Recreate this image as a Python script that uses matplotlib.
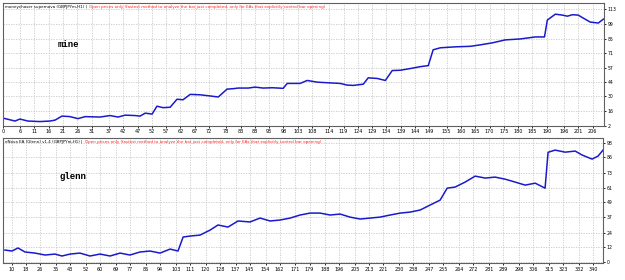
import matplotlib
matplotlib.use("Agg")
import matplotlib.pyplot as plt

# top panel: "mine"
mine_x = [0, 4.2, 5.9, 8.7, 12.9, 16.4, 18.2, 20.6, 23.4, 26.2, 28.7, 33.9, 37.4, 40.2,
          42.7, 46.2, 47.9, 49.7, 52.1, 53.8, 55.9, 58.4, 60.8, 62.9, 65.4, 68.9, 72.4,
          75.2, 78.3, 80.4, 82.2, 85.7, 88.1, 90.9, 94.1, 96.2, 97.9, 99.3, 103.8, 106.3,
          109.8, 113.6, 117.8, 120.3, 122.4, 125.9, 127.6, 130.8, 133.6, 136.0, 138.8,
          142.3, 145.8, 148.6, 150.3, 152.8, 158.0, 163.3, 166.8, 171.0, 175.5, 180.8,
          186.0, 189.2, 190.2, 193.0, 195.5, 197.2, 199.0, 201.0, 202.8, 205.2, 208.0, 209.8]
mine_y = [9.5, 6.7, 8.6, 6.7, 6.2, 6.7, 7.6, 11.4, 10.9, 9.0, 10.9, 10.5, 11.9, 10.5,
          12.3, 11.9, 11.4, 14.2, 13.3, 20.8, 19.4, 19.8, 27.4, 26.9, 32.0, 31.6, 30.5,
          29.5, 37.0, 37.4, 38.0, 38.0, 38.9, 38.0, 38.3, 38.0, 37.7, 42.4, 42.4, 45.2,
          43.6, 43.0, 42.4, 40.8, 40.5, 41.7, 47.7, 47.1, 45.2, 54.6, 54.9,
          56.5, 58.3, 59.3, 74.3, 76.2, 77.1, 77.6, 79.0, 80.9, 83.7, 84.6,
          86.5, 86.5, 102.5, 108.1, 107.2, 106.2, 107.6, 107.2, 104.3, 100.6, 99.7, 103.4]
mine_xticks = [0, 6, 11, 16, 21, 26, 31, 37, 42, 47, 52, 57, 62, 67, 72, 78, 83, 88, 93, 98,
               103, 108, 114, 119, 124, 129, 134, 139, 144, 149, 155, 160, 165, 170, 175,
               180, 185, 190, 196, 201, 206]
mine_yticks = [2, 16, 30, 44, 57, 71, 85, 99, 113]

# bottom panel: "glenn"
glenn_x = [6.0, 10, 13.4, 17.4, 23.1, 28.8, 34.4, 38.4, 43.0, 48.6, 54.3, 60.0, 65.7, 71.4,
           77.0, 82.7, 88.4, 94.1, 99.8, 104.3, 107.2, 111.1, 116.8, 122.5, 127.0, 132.7,
           138.4, 145.2, 150.9, 156.6, 162.3, 168.0, 173.6, 179.3, 185.0, 190.7, 196.4,
           202.0, 207.7, 213.4, 219.1, 224.8, 230.5, 236.1, 241.8, 247.5, 253.2, 257.2,
           261.7, 267.4, 273.1, 278.8, 284.4, 290.1, 295.8, 301.5, 307.2, 312.8, 314.5,
           318.5, 324.2, 329.9, 333.9, 339.5, 342.9, 345.7]
glenn_y = [9.6, 8.8, 11.3, 8.0, 7.1, 5.5, 6.3, 4.7, 6.3, 7.1, 4.7, 6.3, 4.7, 7.1,
           5.5, 8.0, 8.8, 7.1, 10.4, 8.8, 20.3, 21.1, 21.9, 26.0, 30.2, 28.5,
           33.5, 32.7, 35.9, 33.5, 34.3, 35.9, 38.4, 40.0, 40.0, 38.4, 39.2,
           36.7, 35.1, 35.9, 36.7, 38.4, 40.0, 40.8, 42.5, 46.6, 50.7, 60.5,
           61.4, 65.5, 70.4, 68.8, 69.6, 67.9, 65.5, 63.0, 64.6, 60.5, 90.0,
           91.8, 90.1, 91.0, 87.7, 84.4, 86.9, 91.8]
glenn_xticks = [10, 18, 26, 35, 43, 52, 60, 69, 77, 86, 94, 103, 111, 120, 128, 137, 145,
                154, 162, 171, 179, 188, 196, 205, 213, 221, 230, 238, 247, 255, 264, 272,
                281, 289, 298, 306, 315, 323, 332, 340]
glenn_yticks = [0, 12, 24, 37, 49, 61, 73, 86, 98]

mode_text = ("Open prices only (fastest method to analyze the bar just completed, "
             "only for EAs that explicitly control bar opening)")

fig = plt.figure(figsize=(6.25, 2.8), dpi=100)
fig.patch.set_facecolor("white")


def draw_panel(rect, xs, ys, xticks, yticks, xlim, ylim, title, label, label_pos):
    ax = fig.add_axes(rect)
    ax.plot(xs, ys, color="#1a1acc", lw=1.1)
    ax.set_xlim(*xlim)
    ax.set_ylim(*ylim)
    ax.set_xticks(xticks)
    ax.set_xticklabels([str(t) for t in xticks], fontsize=3.5)
    ax.set_yticks(yticks)
    ax.set_yticklabels([str(t) for t in yticks], fontsize=3.3)
    ax.yaxis.tick_right()
    ax.tick_params(axis="both", length=1.5, width=0.6, pad=1, colors="black")
    ax.grid(True, color="#c8c8c8", linestyle=(0, (1.5, 1.5)), lw=0.6)
    for s in ax.spines.values():
        s.set_color("#606060")
        s.set_linewidth(0.8)
    t1 = ax.text(0.004, 0.985, title, transform=ax.transAxes, fontsize=2.9,
                 va="top", ha="left", color="black", family="Liberation Sans Narrow")
    ax.annotate(mode_text, xy=(1, 0), xycoords=t1, fontsize=2.9, va="bottom",
                ha="left", color="#ff2020", family="Liberation Sans Narrow",
                xytext=(1.2, 0), textcoords="offset points")
    ax.text(label_pos[0], label_pos[1], label, transform=ax.transAxes, fontsize=6.5,
            fontweight="bold", family="Liberation Mono", va="center", ha="left")
    return ax


draw_panel([3 / 625, 1 - 126 / 280, 601 / 625, 123 / 280],
           mine_x, mine_y, mine_xticks, mine_yticks, (0, 210), (2, 118.7),
           "moneychaser supernova (GBPJPYm,H1) |", "mine", (0.091, 0.66))
draw_panel([3 / 625, 1 - 263.3 / 280, 600 / 625, 125.6 / 280],
           glenn_x, glenn_y, glenn_xticks, glenn_yticks, (4.9, 345.7), (-1.3, 102),
           "eNova EA (Glenn) v1.4 (GBPJPYm,H1) |", "glenn", (0.094, 0.69))

fig.savefig("out.png", dpi=100, facecolor="white")
